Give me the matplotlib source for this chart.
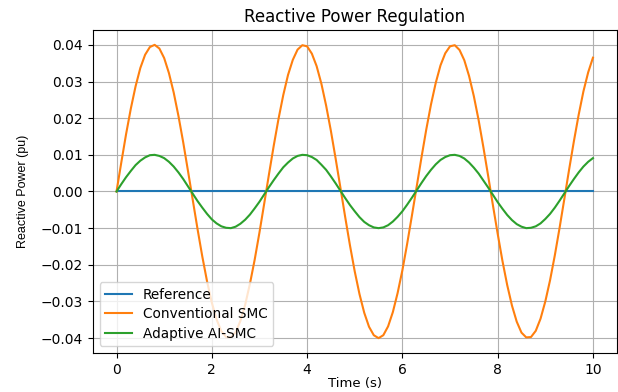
import numpy as np
import matplotlib
matplotlib.use("Agg")
import matplotlib.pyplot as plt

# ---------- datos ----------
tiempo = np.linspace(0, 10, 101)  # paso de 0.1 s

referencia = [0.0] * 101

smc_convencional = [
    0.0, 0.0079, 0.0156, 0.0226, 0.0287, 0.0337, 0.0373, 0.0394, 0.0400, 0.0390,
    0.0364, 0.0323, 0.0270, 0.0206, 0.0134, 0.0056, -0.0023, -0.0102, -0.0177, -0.0245,
    -0.0303, -0.0349, -0.0381, -0.0397, -0.0398, -0.0384, -0.0353, -0.0309, -0.0252, -0.0186,
    -0.0112, -0.0033, 0.0047, 0.0125, 0.0198, 0.0263, 0.0318, 0.0359, 0.0387, 0.0399,
    0.0396, 0.0376, 0.0342, 0.0294, 0.0234, 0.0165, 0.0089, 0.0010, -0.0070, -0.0147,
    -0.0218, -0.0280, -0.0331, -0.0369, -0.0392, -0.0400, -0.0392, -0.0368, -0.0329, -0.0277,
    -0.0215, -0.0143, -0.0066, 0.0013, 0.0092, 0.0168, 0.0237, 0.0296, 0.0344, 0.0377,
    0.0396, 0.0399, 0.0386, 0.0358, 0.0315, 0.0260, 0.0195, 0.0121, 0.0043, -0.0037,
    -0.0115, -0.0189, -0.0255, -0.0311, -0.0355, -0.0385, -0.0398, -0.0397, -0.0380, -0.0347,
    -0.0300, -0.0242, -0.0174, -0.0099, -0.0020, 0.0060, 0.0137, 0.0209, 0.0273, 0.0325,
    0.0365,
]

smc_adaptativo = [
    0.0, 0.0020, 0.0039, 0.0056, 0.0072, 0.0084, 0.0093, 0.0099, 0.0100, 0.0097,
    0.0091, 0.0081, 0.0068, 0.0052, 0.0034, 0.0014, -0.0006, -0.0026, -0.0044, -0.0061,
    -0.0076, -0.0087, -0.0095, -0.0099, -0.0100, -0.0096, -0.0088, -0.0077, -0.0063, -0.0046,
    -0.0028, -0.0008, 0.0012, 0.0031, 0.0049, 0.0066, 0.0079, 0.0090, 0.0097, 0.0100,
    0.0099, 0.0094, 0.0086, 0.0073, 0.0059, 0.0041, 0.0022, 0.0002, -0.0018, -0.0037,
    -0.0054, -0.0070, -0.0083, -0.0092, -0.0098, -0.0100, -0.0098, -0.0092, -0.0082, -0.0069,
    -0.0054, -0.0036, -0.0017, 0.0003, 0.0023, 0.0042, 0.0059, 0.0074, 0.0086, 0.0094,
    0.0099, 0.0100, 0.0097, 0.0090, 0.0079, 0.0065, 0.0049, 0.0030, 0.0011, -0.0009,
    -0.0029, -0.0047, -0.0064, -0.0078, -0.0089, -0.0096, -0.0100, -0.0099, -0.0095, -0.0087,
    -0.0075, -0.0061, -0.0044, -0.0025, -0.0005, 0.0015, 0.0034, 0.0052, 0.0068, 0.0081,
    0.0091,
]

etiquetas = ['Reference', 'Conventional SMC', 'Adaptive AI-SMC']

# ---------- grafico ----------
fig = plt.figure(figsize=(6.18, 3.92), dpi=100)
ax = fig.add_axes([0.150, 0.100, 0.848, 0.823])

ax.plot(tiempo, referencia, label=etiquetas[0])
ax.plot(tiempo, smc_convencional, label=etiquetas[1])
ax.plot(tiempo, smc_adaptativo, label=etiquetas[2])

ax.set_title('Reactive Power Regulation', fontsize=12)
ax.set_xlabel('Time (s)', fontsize=9.5, labelpad=0)
ax.set_ylabel('Reactive Power (pu)', fontsize=9, family='Liberation Sans', labelpad=8)
ax.tick_params(labelsize=10)
ax.set_xticks([0, 2, 4, 6, 8, 10])
ax.grid(True)
ax.legend(loc='lower left', fontsize=9.8, labelspacing=0.4)

fig.savefig('out.png', dpi=100)
